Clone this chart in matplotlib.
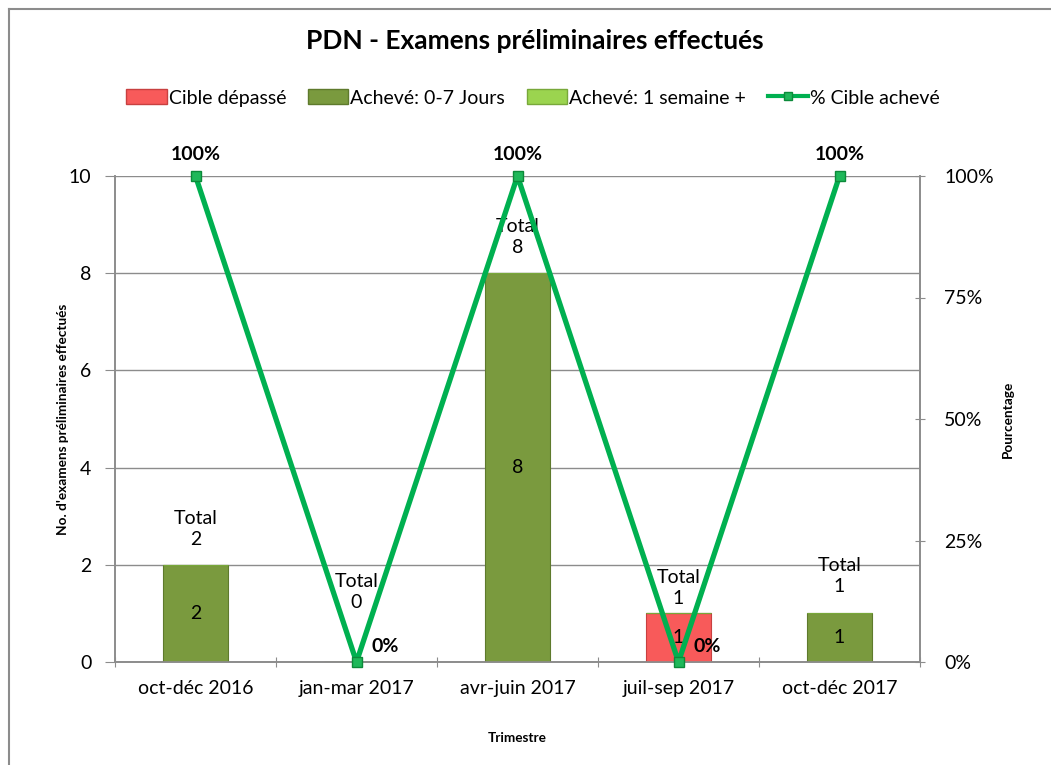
import matplotlib
matplotlib.use("Agg")
import matplotlib.pyplot as plt
from matplotlib.lines import Line2D
from matplotlib.patches import Patch
import numpy as np

plt.rcParams['font.family'] = ['Lato', 'DejaVu Sans']

categories = ["oct-déc 2016", "jan-mar 2017", "avr-juin 2017", "juil-sep 2017", "oct-déc 2017"]
cible_depasse = [0, 0, 0, 1, 0]
acheve_0_7 = [2, 0, 8, 0, 1]
acheve_1_sem = [0, 0, 0, 0, 0]
pct_cible = [100, 0, 100, 0, 100]
left_ticks = [0, 2, 4, 6, 8, 10]
right_ticks = [0, 25, 50, 75, 100]
right_tick_labels = ["0%", "25%", "50%", "75%", "100%"]

c_red = "#F85A5A"
c_olive = "#7A9A3E"
c_light = "#9BD44F"
c_line = "#00B050"
grid_c = "#8C8C8C"
FS = 14

fig = plt.figure(figsize=(10.51, 7.65), dpi=100)
ax = fig.add_axes([115/1051, 103/765, 805/1051, 486/765])
ax2 = ax.twinx()

x = np.arange(len(categories))
w = 0.4
red = np.array(cible_depasse)
olive = np.array(acheve_0_7)
light = np.array(acheve_1_sem)
totals = red + olive + light

ax.bar(x, red, w, color=c_red, edgecolor="#C84040", linewidth=0.8, zorder=3)
ax.bar(x, olive, w, bottom=red, color=c_olive, edgecolor="#5E7A2C", linewidth=0.8, zorder=3)
ax.bar(x, light, w, bottom=red + olive, color=c_light, edgecolor="#78A83A", linewidth=0.8, zorder=3)

ax.set_xlim(-0.5, len(categories) - 0.5)
ax.set_ylim(0, 10)
ax.set_yticks(left_ticks)
ax.set_yticklabels([str(t) for t in left_ticks], fontsize=FS)
ax.set_xticks(np.arange(len(categories) + 1) - 0.5)
ax.set_xticklabels([])
ax.set_xticks(x, minor=True)
ax.set_xticklabels(categories, minor=True, fontsize=FS)
ax.tick_params(axis='x', which='minor', length=0, pad=13)
ax.tick_params(axis='x', which='major', length=7, color=grid_c, direction='inout')
ax.tick_params(axis='y', length=7, color=grid_c, direction='out', pad=10)
ax.yaxis.grid(True, color=grid_c, linewidth=1.0, zorder=0)
ax.set_axisbelow(True)
ax.spines['top'].set_visible(False)
ax2.spines['top'].set_visible(False)
for s in ['left', 'right', 'bottom']:
    for a in (ax, ax2):
        a.spines[s].set_color(grid_c)
        a.spines[s].set_linewidth(1.2)

ax2.set_ylim(0, 100)
ax2.set_yticks(right_ticks)
ax2.set_yticklabels(right_tick_labels, fontsize=FS)
ax2.tick_params(axis='y', length=7, color=grid_c, direction='inout', pad=14)

ax2.plot(x, pct_cible, color=c_line, linewidth=3.8, marker='s', markersize=7,
         markerfacecolor="#1FB85A", markeredgecolor="#0C8A3A", markeredgewidth=1, zorder=5,
         clip_on=False)

# Value labels inside bars
for i in range(len(categories)):
    if red[i] > 0:
        ax.text(x[i], red[i] / 2, str(red[i]), ha='center', va='center', fontsize=FS, zorder=6)
    if olive[i] > 0:
        ax.text(x[i], red[i] + olive[i] / 2, str(olive[i]), ha='center', va='center', fontsize=FS, zorder=6)

# Total labels
total_offsets = [36, 70, 36, 25, 37]
for i in range(len(categories)):
    ax.annotate(f"Total\n{totals[i]}", (x[i], totals[i]), xytext=(0, total_offsets[i]),
                textcoords='offset pixels', ha='center', va='center', fontsize=FS,
                linespacing=1.3, zorder=6)

# Percentage labels
for i in range(len(categories)):
    if pct_cible[i] > 0:
        ax2.annotate(f"{pct_cible[i]}%", (x[i], pct_cible[i]), xytext=(0, 21),
                     textcoords='offset pixels', ha='center', va='center', fontsize=FS,
                     fontweight='bold', zorder=6, annotation_clip=False)
    else:
        ax2.annotate(f"{pct_cible[i]}%", (x[i], pct_cible[i]), xytext=(29, 16),
                     textcoords='offset pixels', ha='center', va='center', fontsize=FS,
                     fontweight='bold', zorder=6)

ax.set_ylabel("No. d'examens préliminaires effectués", fontsize=9.8, fontweight='bold', labelpad=0)
ax2.set_ylabel("Pourcentage", fontsize=9.8, fontweight='bold', labelpad=6)
ax.set_xlabel("Trimestre", fontsize=9.8, fontweight='bold', labelpad=25)

fig.text(535/1051, 1 - 41/765, "PDN - Examens préliminaires effectués", ha='center', va='center',
         fontsize=19, fontweight='bold')

handles = [Patch(facecolor=c_red, edgecolor="#C84040"),
           Patch(facecolor=c_olive, edgecolor="#5E7A2C"),
           Patch(facecolor=c_light, edgecolor="#78A83A"),
           Line2D([0], [0], color=c_line, linewidth=3, marker='s', markersize=6,
                  markerfacecolor="#1FB85A", markeredgecolor="#0C8A3A")]
labels = ["Cible dépassé", "Achevé: 0-7 Jours", "Achevé: 1 semaine +", "% Cible achevé"]
fig.legend(handles, labels, loc='center', bbox_to_anchor=(533/1051, 1 - 98/765), ncol=4,
           frameon=False, fontsize=FS, handlelength=2.1, handleheight=0.8, handletextpad=0.1,
           columnspacing=1.1)

# Outer frame (top and left edges only visible)
fig.add_artist(Line2D([9/1051, 9/1051], [0, 1 - 9/765], transform=fig.transFigure,
                      color=grid_c, linewidth=1.5))
fig.add_artist(Line2D([9/1051, 1], [1 - 9/765, 1 - 9/765], transform=fig.transFigure,
                      color=grid_c, linewidth=1.5))

fig.savefig("out.png", dpi=100)
